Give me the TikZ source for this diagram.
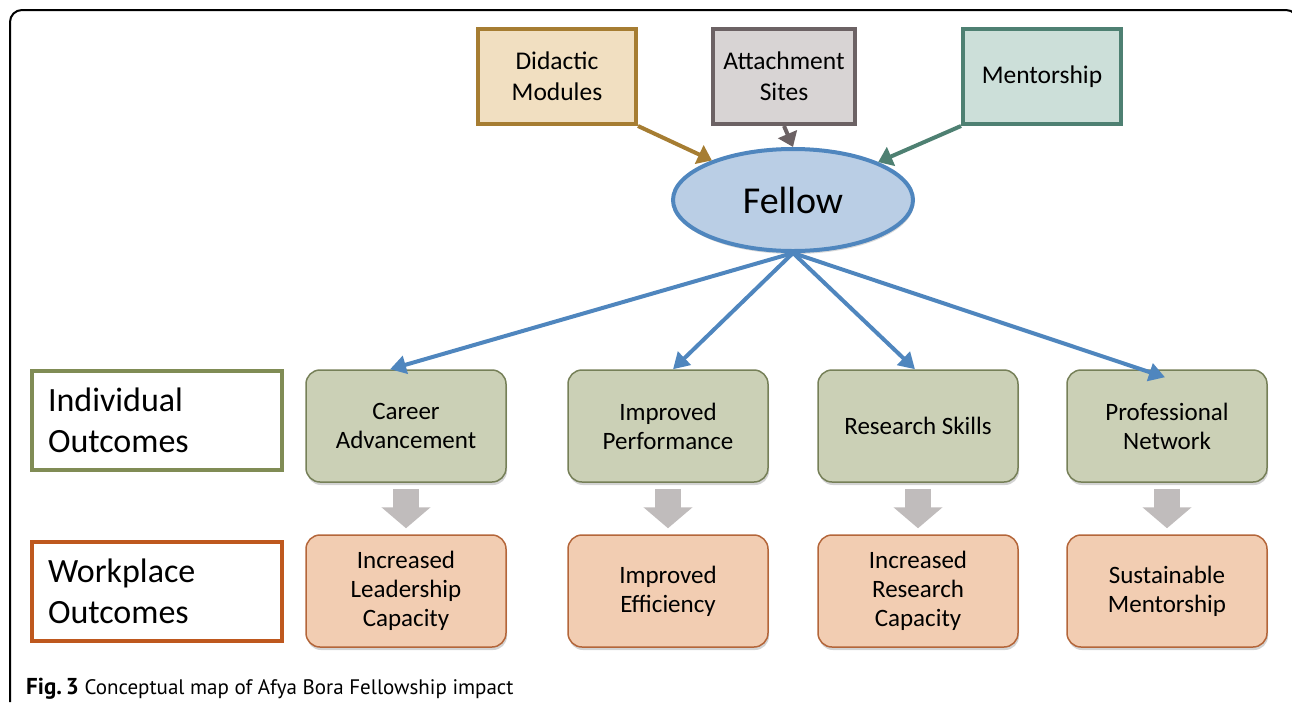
\documentclass[tikz,border=0pt]{standalone}
\usepackage{fontspec}
\setmainfont{Carlito}
\newfontfamily\capfont{PT Sans}
\usetikzlibrary{arrows.meta,shapes.geometric,shadows}

\definecolor{didfill}{RGB}{241,223,193}
\definecolor{diddraw}{RGB}{166,125,50}
\definecolor{attfill}{RGB}{216,212,212}
\definecolor{attdraw}{RGB}{108,98,100}
\definecolor{menfill}{RGB}{204,223,217}
\definecolor{mendraw}{RGB}{78,128,114}
\definecolor{felfill}{RGB}{186,206,229}
\definecolor{feldraw}{RGB}{79,134,190}
\definecolor{indfill}{RGB}{203,208,182}
\definecolor{inddraw}{RGB}{118,128,88}
\definecolor{wrkfill}{RGB}{242,205,178}
\definecolor{wrkdraw}{RGB}{180,102,58}
\definecolor{indlabel}{RGB}{128,140,85}
\definecolor{wrklabel}{RGB}{190,88,30}
\definecolor{blockgray}{RGB}{192,188,188}

\begin{document}
\begin{tikzpicture}[x=1pt,y=-1pt,
  inbox/.style={draw, line width=4, minimum width=158, minimum height=95,
    align=center, font=\fontsize{25.5}{31}\selectfont},
  outbox/.style={draw, line width=1.5, rounded corners=14, minimum width=200,
    minimum height=112, align=center, font=\fontsize{25}{29}\selectfont,
    drop shadow={opacity=0.35, shadow xshift=1pt, shadow yshift=-3pt}},
  labelbox/.style={draw, line width=4, fill=white, minimum width=250,
    minimum height=99, text width=218, align=left,
    font=\fontsize{34}{41}\selectfont},
  feed/.style={line width=4, -{Triangle[width=20pt,length=14pt]}},
  spread/.style={feldraw, line width=4, -{Triangle[width=18pt,length=16pt]}},
  blockarrow/.style={blockgray, line width=26, -{Triangle[width=48pt,length=21pt]}}]
\useasboundingbox (0,0) rectangle (1292,702);

% frame
\draw[line width=2, rounded corners=12] (10,702) -- (10,10) -- (1298,10) -- (1298,702);

% inputs
\node[inbox, fill=didfill, draw=diddraw] (did) at (557,76.5) {Didactic\\Modules};
\node[inbox, fill=attfill, draw=attdraw, minimum width=142] (att) at (784,76.5) {Attachment\\Sites};
\node[inbox, fill=menfill, draw=mendraw] (men) at (1042,76.5) {Mentorship};

\node[ellipse, draw=feldraw, fill=felfill, line width=4, minimum width=240,
  minimum height=102, inner sep=0, font=\fontsize{38}{44}\selectfont,
  drop shadow={opacity=0.3, shadow xshift=1pt, shadow yshift=-3pt}] (fellow) at (793,200) {Fellow};

\draw[feed, diddraw] (did.south east) -- (fellow.154);
\draw[feed, attdraw] (att.south) -- (fellow.north);
\draw[feed, mendraw] (men.south west) -- (fellow.24);

% row labels
\node[labelbox, draw=indlabel] (indiv) at (157,420.5) {Individual\\Outcomes};
\node[labelbox, draw=wrklabel] (work) at (157,591.5) {Workplace\\Outcomes};

% individual outcomes
\node[outbox, fill=indfill, draw=inddraw] (career) at (406,426) {Career\\Advancement};
\node[outbox, fill=indfill, draw=inddraw] (perf) at (668,426) {Improved\\Performance};
\node[outbox, fill=indfill, draw=inddraw] (skills) at (918,426) {Research Skills};
\node[outbox, fill=indfill, draw=inddraw] (network) at (1167,426) {Professional\\Network};

% workplace outcomes
\node[outbox, fill=wrkfill, draw=wrkdraw] (lead) at (406,591) {Increased\\Leadership\\Capacity};
\node[outbox, fill=wrkfill, draw=wrkdraw] (eff) at (668,591) {Improved\\Efficiency};
\node[outbox, fill=wrkfill, draw=wrkdraw] (rescap) at (918,591) {Increased\\Research\\Capacity};
\node[outbox, fill=wrkfill, draw=wrkdraw] (sustain) at (1167,591) {Sustainable\\Mentorship};

\draw[spread] (fellow.south) -- ([xshift=-16]career.north);
\draw[spread] (fellow.south) -- ([xshift=5]perf.north);
\draw[spread] (fellow.south) -- ([xshift=-3]skills.north);
\draw[spread] (fellow.south) -- ([xshift=-2,yshift=-8]network.north);

\foreach \a/\b in {career/lead, perf/eff, skills/rescap, network/sustain}
  \draw[blockarrow] ([yshift=-6]\a.south) -- ([yshift=6]\b.north);

% caption
\node[anchor=base west, inner sep=0, font=\capfont\fontsize{21}{24}\selectfont] (cap) at (26,694)
  {{\fontsize{23}{24}\selectfont\textbf{Fig.\,3}} Conceptual map of Afya Bora Fellowship impact};
\end{tikzpicture}
\end{document}
